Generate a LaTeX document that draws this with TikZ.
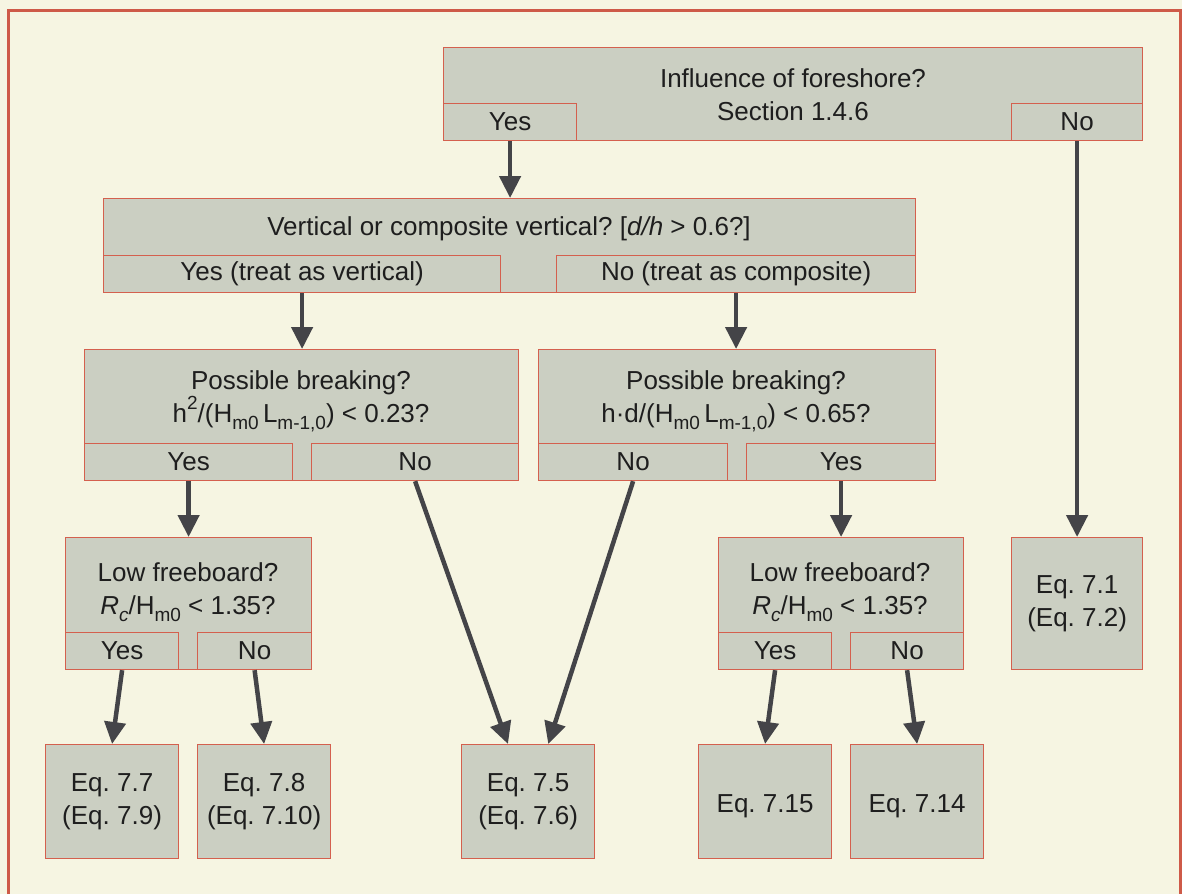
\documentclass[tikz,border=0pt]{standalone}
\usepackage{fontspec}
\setmainfont{Liberation Sans}
\usetikzlibrary{arrows.meta,calc}
\definecolor{bg}{HTML}{F6F5E2}
\definecolor{framec}{HTML}{CE5A48}
\definecolor{boxfill}{HTML}{CBCFC2}
\definecolor{boxline}{HTML}{D4604E}
\definecolor{arrowc}{HTML}{444448}
\definecolor{txt}{HTML}{1E1E1E}
\frenchspacing
\newcommand\sbs[1]{\raisebox{-0.28em}{\fontsize{19}{19}\selectfont #1}}
\newcommand\sps[1]{\raisebox{0.5em}{\fontsize{19}{19}\selectfont #1}}
\newcommand\mybox[6]{\node[box, minimum width={(#4-#2)*1pt}, minimum height={(#5-#3)*1pt}, anchor=north west] (#1) at (#2,#3) {#6};}
\begin{document}
\begin{tikzpicture}[x=1pt,y=-1pt,
 box/.style={draw=boxline, fill=boxfill, line width=1.2pt, inner sep=0pt, text=txt, font=\fontsize{26}{33}\selectfont\frenchspacing, align=center},
 lbl/.style={inner sep=0pt, text=txt, font=\fontsize{26}{33}\selectfont\frenchspacing, align=center},
 arr/.style={draw=arrowc, line width=4.5pt, -{Triangle[width=21pt,length=22pt]}}]
\fill[bg] (0,0) rectangle (1182,894);
\useasboundingbox (0,0) rectangle (1182,894);
\draw[framec, line width=3pt] (8.5,894) -- (8.5,10.5) -- (1180.5,10.5) -- (1180.5,894);

% top question
\mybox{q1}{443}{47}{1142}{140}{}
\mybox{q1yes}{443}{103}{576}{140}{Yes}
\mybox{q1no}{1011}{103}{1142}{140}{No}
\node[lbl] (q1t) at (793,94.5) {Influence of foreshore?\\Section 1.4.6};

% vertical or composite
\mybox{q2}{103}{198}{915}{292}{}
\mybox{q2yes}{103}{255}{500}{292}{Yes (treat as vertical)}
\mybox{q2no}{556}{255}{915}{292}{No (treat as composite)}
\node[lbl] (q2t) at (509,229) {Vertical or composite vertical? [\textit{d/h} > 0.6?]};

% breaking left
\mybox{q3l}{84}{349}{518}{480}{}
\mybox{q3lyes}{84}{443}{292}{480}{Yes}
\mybox{q3lno}{311}{443}{518}{480}{No}
\node[lbl] (q3lt) at (301,401) {Possible breaking?\\h\sps{2}/(H\sbs{m0}\,L\sbs{m-1,0}) < 0.23?};

% breaking right
\mybox{q3r}{538}{349}{935}{480}{}
\mybox{q3rno}{538}{443}{727}{480}{No}
\mybox{q3ryes}{746}{443}{935}{480}{Yes}
\node[lbl] (q3rt) at (736,401) {Possible breaking?\\h·d/(H\sbs{m0}\,L\sbs{m-1,0}) < 0.65?};

% freeboard left
\mybox{q4l}{65}{537}{311}{669}{}
\mybox{q4lyes}{65}{632}{178}{669}{Yes}
\mybox{q4lno}{197}{632}{311}{669}{No}
\node[lbl] (q4lt) at (188,592) {Low freeboard?\\\textit{R}\sbs{\textit{c}}/H\sbs{m0} < 1.35?};

% freeboard right
\mybox{q4r}{718}{537}{963}{669}{}
\mybox{q4ryes}{718}{632}{831}{669}{Yes}
\mybox{q4rno}{850}{632}{963}{669}{No}
\node[lbl] (q4rt) at (840,592) {Low freeboard?\\\textit{R}\sbs{\textit{c}}/H\sbs{m0} < 1.35?};

% results
\mybox{eq71}{1011}{537}{1142}{669}{Eq. 7.1\\(Eq. 7.2)}
\mybox{eq77}{45}{744}{178}{858}{Eq. 7.7\\(Eq. 7.9)}
\mybox{eq78}{197}{744}{330}{858}{Eq. 7.8\\(Eq. 7.10)}
\mybox{eq75}{461}{744}{594}{858}{Eq. 7.5\\(Eq. 7.6)}
\mybox{eq715}{698}{744}{831}{858}{\rule{0pt}{27pt}Eq. 7.15}
\mybox{eq714}{850}{744}{983}{858}{\rule{0pt}{27pt}Eq. 7.14}

% arrows
\draw[arr] (q1yes.south) -- (q1yes.south |- q2.north);
\draw[arr] (q1no.south) -- (eq71.north);
\draw[arr] (q2yes.south) -- (q2yes.south |- q3l.north);
\draw[arr] (q2no.south) -- (q2no.south |- q3r.north);
\draw[arr] (q3lyes.south) -- (q4l.north);
\draw[arr] (q3ryes.south) -- (q4r.north);
\draw[arr] (q3lno.south) -- ($(eq75.north west)!0.35!(eq75.north east)$);
\draw[arr] (q3rno.south) -- ($(eq75.north west)!0.65!(eq75.north east)$);
\draw[arr] (q4lyes.south) -- (eq77.north);
\draw[arr] (q4lno.south) -- (eq78.north);
\draw[arr] (q4ryes.south) -- (eq715.north);
\draw[arr] (q4rno.south) -- (eq714.north);
\end{tikzpicture}
\end{document}
